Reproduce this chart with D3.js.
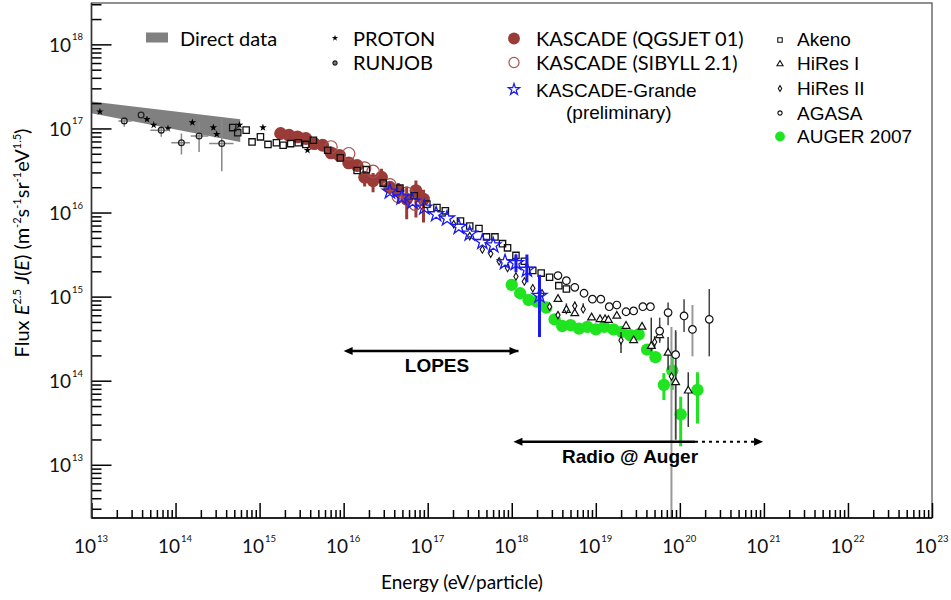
<!DOCTYPE html>
<html lang="en">
<head>
<meta charset="UTF-8" />
<script src="https://d3js.org/d3.v7.min.js"></script>
<style>
  body { margin: 0; background: #fff; }
  .gill { font-family: Lato, "Open Sans", sans-serif; }
  .arial { font-family: "Liberation Sans", Arial, sans-serif; }
</style>
<title>Cosmic ray flux</title>
</head>
<body>
<div id="chart"></div>
<script>
// every value is log10: energy in eV, flux as E^2.5 J(E)
// rows are [lgE, lgF] or [lgE, lgF, lgF low, lgF high]

const directE = [13.0, 14.77];
const directHi = [17.32, 17.11];
const directLo = [17.18, 16.84];

const proton = [[13.10,17.20],[13.66,17.11],[13.74,17.04],[13.91,17.00],[14.20,17.07],
  [14.45,17.01],[14.49,16.93],[14.76,17.04],[15.04,17.01],[15.57,16.74]];

// [lgE, lgF, lgE low, lgE high, lgF low, lgF high]
const runjob = [[13.39,17.09,13.32,13.48,17.02,17.14],[13.59,17.16,13.53,13.70,17.12,17.20],
  [13.83,16.98,13.70,13.93,16.90,17.04],[14.07,16.83,13.95,14.17,16.69,16.94],
  [14.28,16.91,14.18,14.39,16.72,17.08],[14.55,16.82,14.40,14.69,16.49,17.12]];

const akeno = [[14.68,17.01],[14.74,16.95],[14.84,16.98],[14.91,16.84],[15.01,16.90],
  [15.10,16.81],[15.20,16.83],[15.28,16.80],[15.37,16.82],[15.46,16.83],[15.55,16.81],
  [15.64,16.86],[15.81,16.74],[15.96,16.65],[16.16,16.50],[16.27,16.51],[16.47,16.35],
  [16.67,16.29],[16.84,16.20],[16.99,16.10],[17.11,16.06],[17.21,16.02],[17.39,15.90],
  [17.50,15.84],[17.61,15.81],[17.70,15.71],[17.80,15.71],[17.89,15.63],[17.95,15.58],
  [18.05,15.49],[18.15,15.42],[18.25,15.31],[18.35,15.28],[18.45,15.23],[18.56,15.13],
  [18.65,15.09]];

const kascadeQ = [[15.25,16.94],[15.35,16.92],[15.45,16.90],[15.55,16.88],[15.65,16.82],
  [15.75,16.80],[15.85,16.71],[15.95,16.68],[16.06,16.59],[16.16,16.56],
  [16.25,16.42,16.31,16.49],[16.35,16.38,16.24,16.47],[16.45,16.42,16.30,16.52],
  [16.55,16.30,16.22,16.37],[16.65,16.26,16.10,16.35],[16.75,16.16,15.92,16.31],
  [16.86,16.26,15.94,16.38],[16.95,16.16,15.88,16.27]];

const kascadeS = [[15.85,16.78],[16.06,16.70],[16.25,16.53],[16.35,16.49],[16.55,16.33],
  [16.65,16.19],[16.75,16.23],[16.85,16.10]];

const grande = [[16.55,16.25],[16.69,16.18],[16.82,16.13],[16.96,16.06],[17.10,15.98],
  [17.23,15.93],[17.37,15.83],[17.50,15.75],[17.65,15.65],[17.78,15.61],[17.92,15.41],
  [18.05,15.40,15.29,15.50],[18.18,15.32,15.17,15.50],[18.33,15.01,14.52,15.26]];

const hires2 = [[17.31,15.86],[17.50,15.72],[17.65,15.56],[17.75,15.51],[17.85,15.42],
  [17.95,15.34],[18.05,15.24],[18.15,15.18],[18.25,15.10],[18.36,15.04],[18.45,14.88],
  [18.55,14.78],[18.65,14.85,14.79,14.92],[18.75,14.89,14.81,14.94],[18.85,14.85,14.81,14.92],
  [19.30,14.48,14.33,14.58],[19.70,14.46,14.38,14.53],[19.90,14.05]];

const hires1 = [[18.55,14.97],[18.65,14.84],[18.75,14.80],[18.95,14.75],[19.05,14.73],
  [19.11,14.73],[19.15,14.72],[19.25,14.77],[19.36,14.65],[19.45,14.48],[19.55,14.64],
  [19.66,14.41,14.35,14.75],[19.76,14.54,14.47,14.66],[19.86,14.33,14.13,14.52],
  [19.95,13.98,13.30,14.60],[20.10,13.88,13.45,14.10]];

const agasa = [[18.55,15.25],[18.65,15.19],[18.75,15.11],[18.86,15.04],[18.96,14.97],
  [19.06,14.97],[19.16,14.88],[19.25,14.90],[19.36,14.82],[19.45,14.83],[19.56,14.88],
  [19.65,14.88],[19.76,14.59,14.45,14.75],[19.86,14.81,14.66,14.93],[19.95,14.31,13.30,14.58],
  [20.05,14.77,14.58,14.97],[20.15,14.61],[20.35,14.73,14.29,15.09]];

// grey error bars: [lgE, lgF low, lgF high]
const greyBars = [[19.90,12.30,14.64],[20.15,14.29,14.90]];

const auger = [[18.00,15.14],[18.10,15.04],[18.20,14.96],[18.30,14.94],[18.41,14.87],
  [18.51,14.73],[18.60,14.65],[18.70,14.66],[18.80,14.62],[18.90,14.64],[19.00,14.61],
  [19.10,14.64],[19.21,14.61],[19.31,14.58],[19.41,14.54],[19.51,14.55],[19.61,14.37],
  [19.71,14.28],[19.81,13.95,13.77,14.09],[19.91,14.12,13.89,14.29],
  [20.01,13.60,13.22,13.81],[20.21,13.89,13.49,14.10]];

// energy ranges of the radio experiments
const lopesRange = [16.0, 18.08];
const radioAugerRange = [18.02, 20.18, 20.99];

const xDecades = d3.range(13, 24);
const yDecades = d3.range(13, 19);

const width = 951, height = 600;
const svg = d3.select("#chart").append("svg")
  .attr("width", width).attr("height", height);

const x = d3.scaleLog().domain([1e13, 1e23]).range([91.5, 932]);
const y = d3.scaleLog().domain([10 ** 12.367, 10 ** 18.492]).range([518, 3]);
const X = lg => x(10 ** lg);
const Y = lg => y(10 ** lg);

svg.append("clipPath").attr("id", "clip")
  .append("rect").attr("x", 91.5).attr("y", 3).attr("width", 840.5).attr("height", 515);

const plot = svg.append("g").attr("clip-path", "url(#clip)");

// direct data band
const band = directE.map((e, i) => ({ e, hi: directHi[i], lo: directLo[i] }));
plot.append("path").datum(band)
  .attr("fill", "#808080")
  .attr("d", d3.area().x(d => X(d.e)).y0(d => Y(d.lo)).y1(d => Y(d.hi)));

function bars(g, data, color, w) {
  g.append("g").selectAll("line").data(data.filter(d => d.length > 3)).join("line")
    .attr("x1", d => X(d[0])).attr("x2", d => X(d[0]))
    .attr("y1", d => Y(d[2])).attr("y2", d => Y(d[3]))
    .attr("stroke", color).attr("stroke-width", w);
}

function marks(g, data, type, size, fill, stroke, sw) {
  g.append("g").selectAll("path").data(data).join("path")
    .attr("transform", d => `translate(${X(d[0])},${Y(d[1])})`)
    .attr("d", d3.symbol(type, size))
    .attr("fill", fill).attr("stroke", stroke).attr("stroke-width", sw);
}

const brown = "#993c38", blue = "#1a1aee", green = "#1fe41f";

// KASCADE
bars(plot, kascadeQ, brown, 3);
marks(plot, kascadeQ, d3.symbolCircle, 130, brown, "none", 0);
marks(plot, kascadeS, d3.symbolCircle, 120, "none", "#a8504c", 1.2);

// Akeno
marks(plot, akeno, d3.symbolSquare, 40, "none", "#111", 1.3);

// AUGER
bars(plot, auger, green, 3);
marks(plot, auger, d3.symbolCircle, 120, green, "none", 0);

// grey bars
plot.append("g").selectAll("line").data(greyBars).join("line")
  .attr("x1", d => X(d[0])).attr("x2", d => X(d[0]))
  .attr("y1", d => Y(d[1])).attr("y2", d => Y(d[2]))
  .attr("stroke", "#999").attr("stroke-width", 2);

// HiRes, AGASA
bars(plot, hires1, "#333", 1.5);
bars(plot, hires2, "#333", 1.5);
bars(plot, agasa, "#444", 1.5);
marks(plot, hires1, d3.symbolTriangle, 26, "#fff", "#111", 1.2);
marks(plot, hires2, d3.symbolDiamond, 16, "#fff", "#111", 1.1);
marks(plot, agasa, d3.symbolCircle, 45, "#fff", "#111", 1.2);

// proton and runjob
marks(plot, proton, d3.symbolStar, 18, "#000", "none", 0);
const rj = plot.append("g");
rj.selectAll("line.h").data(runjob).join("line").attr("class", "h")
  .attr("x1", d => X(d[2])).attr("x2", d => X(d[3]))
  .attr("y1", d => Y(d[1])).attr("y2", d => Y(d[1]))
  .attr("stroke", "#888").attr("stroke-width", 1.5);
rj.selectAll("line.v").data(runjob).join("line").attr("class", "v")
  .attr("x1", d => X(d[0])).attr("x2", d => X(d[0]))
  .attr("y1", d => Y(d[4])).attr("y2", d => Y(d[5]))
  .attr("stroke", "#888").attr("stroke-width", 1.5);
marks(plot, runjob, d3.symbolCircle, 26, "none", "#222", 1.3);

// KASCADE-Grande
bars(plot, grande, blue, 3);
marks(plot, grande, d3.symbolStar, 70, "none", blue, 1.3);

// frame and axes
svg.append("rect").attr("x", 91.5).attr("y", 3).attr("width", 840.5).attr("height", 515)
  .attr("fill", "none").attr("stroke", "#555").attr("stroke-width", 1.3);

const xMinor = [], yMinor = [];
xDecades.slice(0, -1).forEach(d => d3.range(2, 10).forEach(m => xMinor.push(m * 10 ** d)));
d3.range(12, 19).forEach(d => d3.range(2, 10).forEach(m => {
  const v = m * 10 ** d;
  if (v > y.domain()[0] && v < y.domain()[1]) yMinor.push(v);
}));

function tickStyle(g) {
  g.select(".domain").remove();
  g.selectAll(".tick text").remove();
  g.selectAll(".tick line").attr("stroke", "#000").attr("stroke-width", 1.5);
}
svg.append("g").attr("transform", "translate(0,518)")
  .call(d3.axisTop(x).tickValues(xDecades.map(d => 10 ** d)).tickSize(15)).call(tickStyle);
svg.append("g").attr("transform", "translate(0,518)")
  .call(d3.axisTop(x).tickValues(xMinor).tickSize(8)).call(tickStyle);
svg.append("g").attr("transform", "translate(91.5,0)")
  .call(d3.axisRight(y).tickValues(yDecades.map(d => 10 ** d)).tickSize(20)).call(tickStyle);
svg.append("g").attr("transform", "translate(91.5,0)")
  .call(d3.axisRight(y).tickValues(yMinor).tickSize(10)).call(tickStyle);

svg.append("line").attr("x1", 91.5).attr("x2", 932).attr("y1", 518).attr("y2", 518)
  .attr("stroke", "#000").attr("stroke-width", 1.5);
svg.append("line").attr("x1", 91.5).attr("x2", 91.5).attr("y1", 3).attr("y2", 518)
  .attr("stroke", "#333").attr("stroke-width", 1.5);

// tick labels
const xl = svg.append("g").attr("class", "gill").attr("fill", "#111");
xDecades.forEach(d => {
  xl.append("text").attr("x", x(10 ** d) + 4.5).attr("y", 553)
    .attr("text-anchor", "end").style("font-size", "19px").text("10");
  xl.append("text").attr("x", x(10 ** d) + 5.5).attr("y", 542)
    .style("font-size", "9.5px").text(d);
});
yDecades.forEach(d => {
  xl.append("text").attr("x", 71).attr("y", y(10 ** d) + 7.5)
    .attr("text-anchor", "end").style("font-size", "19px").text("10");
  xl.append("text").attr("x", 72).attr("y", y(10 ** d) - 4)
    .style("font-size", "9.5px").text(d);
});

// axis titles
svg.append("text").attr("class", "gill").attr("x", 462).attr("y", 589)
  .attr("text-anchor", "middle").style("font-size", "19px").text("Energy (eV/particle)");

const yTitle = svg.append("text").attr("class", "gill")
  .attr("transform", "translate(29,243) rotate(-90)")
  .attr("text-anchor", "middle").style("font-size", "20px");
const titleParts = [["Flux ", ""], ["E", "i"], ["2.5", "s"], [" ", ""], ["J", "i"], ["(", ""],
  ["E", "i"], [") (m", ""], ["-2", "s"], ["s", ""], ["-1", "s"], ["sr", ""], ["-1", "s"],
  ["eV", ""], ["1.5", "s"], [")", ""]];
let raised = false;
titleParts.forEach(([t, k]) => {
  const ts = yTitle.append("tspan").text(t);
  if (k === "s") {
    ts.attr("dy", raised ? 0 : -8).style("font-size", "11px");
    raised = true;
  } else {
    if (raised) ts.attr("dy", 8);
    raised = false;
    if (k === "i") ts.style("font-style", "italic");
  }
});

// radio arrows
function arrow(y0, x0, x1, x2) {
  const g = svg.append("g");
  g.append("line").attr("x1", x0 + 4).attr("x2", x1).attr("y1", y0).attr("y2", y0)
    .attr("stroke", "#000").attr("stroke-width", 2.5);
  if (x2 !== undefined) {
    g.append("line").attr("x1", x1).attr("x2", x2 - 4).attr("y1", y0).attr("y2", y0)
      .attr("stroke", "#000").attr("stroke-width", 2).attr("stroke-dasharray", "3,4");
  }
  const tip = x2 === undefined ? x1 : x2;
  g.append("path").attr("d", `M${x0},${y0}L${x0 + 9},${y0 - 4}L${x0 + 9},${y0 + 4}Z`);
  g.append("path").attr("d", `M${tip},${y0}L${tip - 9},${y0 - 4}L${tip - 9},${y0 + 4}Z`);
}
arrow(351, X(lopesRange[0]), X(lopesRange[1]));
arrow(441.7, X(radioAugerRange[0]), X(radioAugerRange[1]), X(radioAugerRange[2]));
svg.append("text").attr("class", "arial").attr("x", 437).attr("y", 372)
  .attr("text-anchor", "middle").style("font-size", "19px").style("font-weight", "bold")
  .text("LOPES");
svg.append("text").attr("class", "arial").attr("x", 630).attr("y", 463)
  .attr("text-anchor", "middle").style("font-size", "19px").style("font-weight", "bold")
  .text("Radio @ Auger");

// legend
const lg = svg.append("g");
lg.append("rect").attr("x", 146).attr("y", 32.5).attr("width", 22).attr("height", 10).attr("fill", "#808080");
function legText(xp, yp, t, cls, fs) {
  return lg.append("text").attr("class", cls).attr("x", xp).attr("y", yp)
    .style("font-size", fs + "px").text(t);
}
function legMark(xp, yp, type, size, fill, stroke, sw) {
  lg.append("path").attr("transform", `translate(${xp},${yp})`)
    .attr("d", d3.symbol(type, size)).attr("fill", fill).attr("stroke", stroke).attr("stroke-width", sw);
}
legText(180, 46, "Direct data", "gill", 20);
legMark(335, 38, d3.symbolStar, 12, "#000", "none", 0);
legText(353, 46, "PROTON", "gill", 20);
legMark(335, 63, d3.symbolCircle, 14, "#777", "#222", 1.2);
legText(353, 70, "RUNJOB", "gill", 20);
legMark(514, 38.5, d3.symbolCircle, 110, brown, "none", 0);
legText(536, 46, "KASCADE (QGSJET 01)", "gill", 20);
legMark(514, 62.5, d3.symbolCircle, 80, "none", "#a8504c", 1.2);
legText(536, 70, "KASCADE (SIBYLL 2.1)", "gill", 20);
legMark(514, 89.5, d3.symbolStar, 40, "none", blue, 1.2);
legText(536, 96.5, "KASCADE-Grande", "arial", 19);
legText(566, 119, "(preliminary)", "arial", 19);
legMark(780, 40, d3.symbolSquare, 20, "none", "#111", 1.1);
legText(797, 46, "Akeno", "arial", 19);
legMark(780, 64, d3.symbolTriangle, 16, "none", "#111", 1.1);
legText(797, 70, "HiRes I", "arial", 19);
legMark(780, 88.5, d3.symbolDiamond, 10, "none", "#111", 1.1);
legText(797, 95, "HiRes II", "arial", 19);
legMark(780, 113, d3.symbolCircle, 14, "none", "#111", 1.1);
legText(797, 120, "AGASA", "arial", 19);
legMark(780, 136.5, d3.symbolCircle, 75, green, "none", 0);
legText(797, 143, "AUGER 2007", "arial", 19);
</script>
</body>
</html>
